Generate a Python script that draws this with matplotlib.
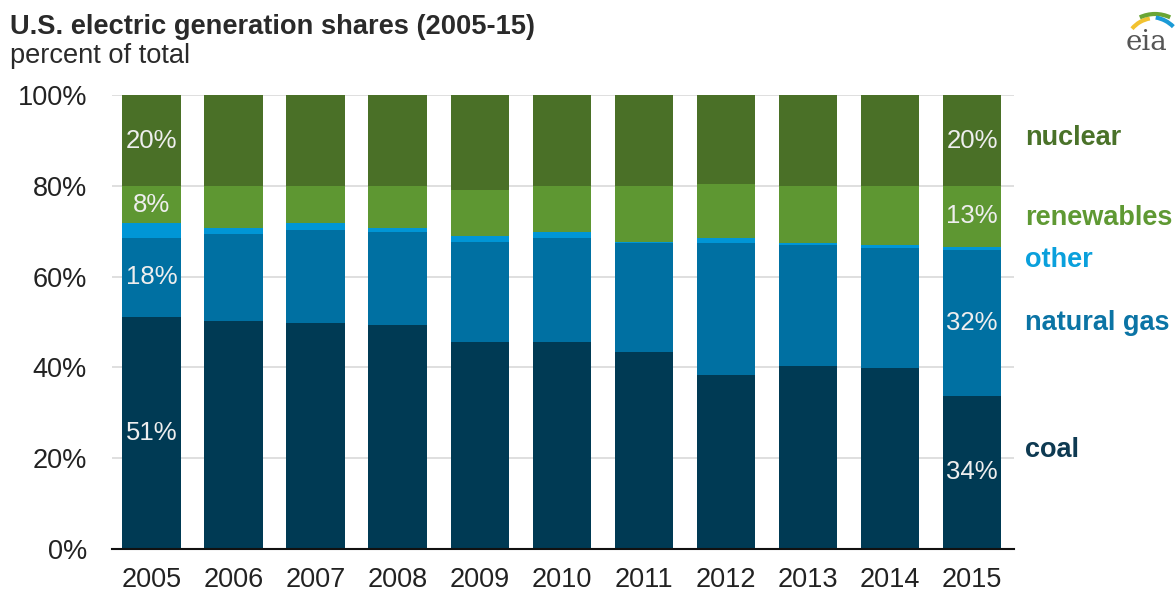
import matplotlib.pyplot as plt
from matplotlib.patches import Arc
import numpy as np

plt.rcParams['font.family'] = ['Liberation Sans', 'DejaVu Sans']

# shares (percent of total)
years = ['2005', '2006', '2007', '2008', '2009', '2010', '2011', '2012', '2013', '2014', '2015']
coal = [51.2, 50.3, 49.8, 49.3, 45.6, 45.6, 43.4, 38.4, 40.2, 39.8, 33.8]
natural_gas = [17.3, 19.1, 20.5, 20.5, 22.0, 22.9, 23.9, 29.1, 26.8, 26.5, 32.0]
other = [3.2, 1.3, 1.4, 0.9, 1.4, 1.3, 0.4, 0.9, 0.3, 0.7, 0.8]
renewables = [8.2, 9.2, 8.2, 9.2, 10.0, 10.1, 12.2, 11.9, 12.6, 12.9, 13.3]
nuclear = [20.1, 20.1, 20.1, 20.1, 21.0, 20.1, 20.1, 19.7, 20.1, 20.1, 20.1]

series_names = ['coal', 'natural gas', 'other', 'renewables', 'nuclear']
bar_colors = ['#003a54', '#0070a2', '#0096d6', '#5e9732', '#4a7027']
text_colors = ['#0e3a52', '#0b74a5', '#0aa0dc', '#5f9933', '#4a7229']

# labels shown inside the first and last bar
first_labels = ['51%', '18%', '', '8%', '20%']
last_labels = ['34%', '32%', '', '13%', '20%']

fig = plt.figure(figsize=(11.76, 5.93), dpi=100)
ax = fig.add_axes([112/1176, 1-549/593, (1014-112)/1176, (549-95)/593])

x = np.arange(len(years))
data = [coal, natural_gas, other, renewables, nuclear]
bottom = np.zeros(len(years))
for vals, col in zip(data, bar_colors):
    ax.bar(x, vals, width=0.71, bottom=bottom, color=col, zorder=3)
    bottom = bottom + np.array(vals)

# value labels in the middle of segments
bottom = np.zeros(len(years))
for i, vals in enumerate(data):
    mids = bottom + np.array(vals) / 2
    for idx, labs in [(0, first_labels), (len(years) - 1, last_labels)]:
        if labs[i]:
            ax.text(x[idx], mids[idx], labs[i], ha='center', va='center',
                    color='#eeeeee', fontsize=18.5, zorder=4)
    bottom = bottom + np.array(vals)

# series names at right
name_y = [21.8, 49.8, 63.7, 73.0, 90.6]
for name, yy, col in zip(series_names, name_y, text_colors):
    ax.text(10.65, yy, name, ha='left', va='center', color=col,
            fontsize=19.5, fontweight='bold', clip_on=False)

ax.set_xlim(-0.48, 10.51)
ax.set_ylim(0, 100)
ax.set_yticks([0, 20, 40, 60, 80, 100])
ax.set_yticklabels(['0%', '20%', '40%', '60%', '80%', '100%'])
ax.set_xticks(x)
ax.set_xticklabels(years)
ax.tick_params(axis='both', length=0, colors='#222222')
ax.tick_params(axis='y', pad=18, labelsize=19.5)
ax.tick_params(axis='x', pad=13, labelsize=19.5)
ax.grid(axis='y', color='#d9d9d9', linewidth=1.2, zorder=0)
for s in ['top', 'right', 'left']:
    ax.spines[s].set_visible(False)
ax.spines['bottom'].set_color('#111111')
ax.spines['bottom'].set_linewidth(1.5)
ax.spines['bottom'].set_zorder(5)

fig.text(10/1176, 1-34/593, 'U.S. electric generation shares (2005-15)',
         fontsize=19.6, fontweight='bold', color='#2a2a2a', va='baseline')
fig.text(10/1176, 1-63/593, 'percent of total', fontsize=19.6,
         color='#2a2a2a', va='baseline')

# eia logo, drawn in pixel coordinates (y measured down from the top)
lax = fig.add_axes([1110/1176, 1-60/593, 66/1176, 60/593])
lax.set_xlim(1110, 1176)
lax.set_ylim(60, 0)
lax.axis('off')
lax.text(1147, 50, 'eia', ha='center', va='baseline', fontsize=20,
         family='DejaVu Serif', color='#555555')
lax.add_patch(Arc((1155, 48), 60, 60, theta1=-140, theta2=-100, color='#f2c230', lw=3))
lax.add_patch(Arc((1155, 50), 72, 72, theta1=-115, theta2=-65, color='#6aa534', lw=3))
lax.add_patch(Arc((1150, 50), 66, 66, theta1=-80, theta2=-45, color='#1b9ad6', lw=3))

fig.savefig('out.png', dpi=100)
